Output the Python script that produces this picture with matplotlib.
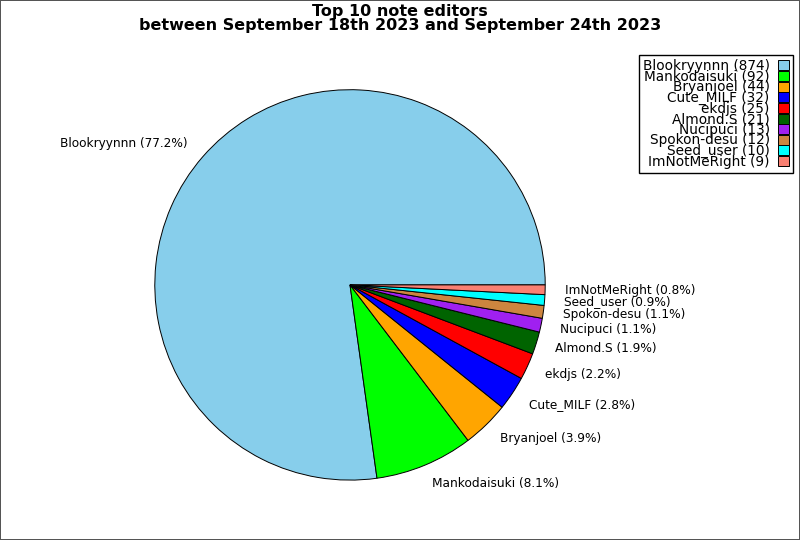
import matplotlib
matplotlib.use("Agg")
import matplotlib.pyplot as plt

# top 10 editors and their note counts
names = ["Blookryynnn", "Mankodaisuki", "Bryanjoel", "Cute_MILF", "ekdjs",
         "Almond.S", "Nucipuci", "Spokon-desu", "Seed_user", "ImNotMeRight"]
counts = [874, 92, 44, 32, 25, 21, 13, 12, 10, 9]
colors = ["skyblue", "lime", "orange", "blue", "red",
          "darkgreen", "#a020f0", "peru", "cyan", "salmon"]

total = sum(counts)
pie_labels = [f"{n} ({c / total * 100:.1f}%)" for n, c in zip(names, counts)]
legend_labels = [f"{n} ({c})" for n, c in zip(names, counts)]

fig = plt.figure(figsize=(8, 5.4), dpi=100)
fig.patch.set_edgecolor("#555555")
fig.patch.set_linewidth(1.2)

ax = fig.add_axes([0.1325, 0.0204, 0.61, 0.904])
wedges, texts = ax.pie(counts, labels=pie_labels, colors=colors, startangle=0,
                       counterclock=True, labeldistance=1.1,
                       wedgeprops={"edgecolor": "black", "linewidth": 0.7},
                       textprops={"fontsize": 8.7})
ax.set_xlim(-1.25, 1.25)
ax.set_ylim(-1.25, 1.25)
ax.set_aspect("equal")

fig.suptitle("Top 10 note editors\nbetween September 18th 2023 and September 24th 2023",
             fontsize=11.5, fontweight="bold", y=0.993, linespacing=0.95)

fig.legend(wedges, legend_labels, loc="upper right", bbox_to_anchor=(0.991, 0.898),
           borderaxespad=0, markerfirst=False, fontsize=9.8, labelspacing=-0.25,
           handlelength=0.8, handleheight=0.75, handletextpad=0.6, borderpad=0.3,
           fancybox=False, edgecolor="black", framealpha=1)

fig.savefig("out.png", dpi=100)
